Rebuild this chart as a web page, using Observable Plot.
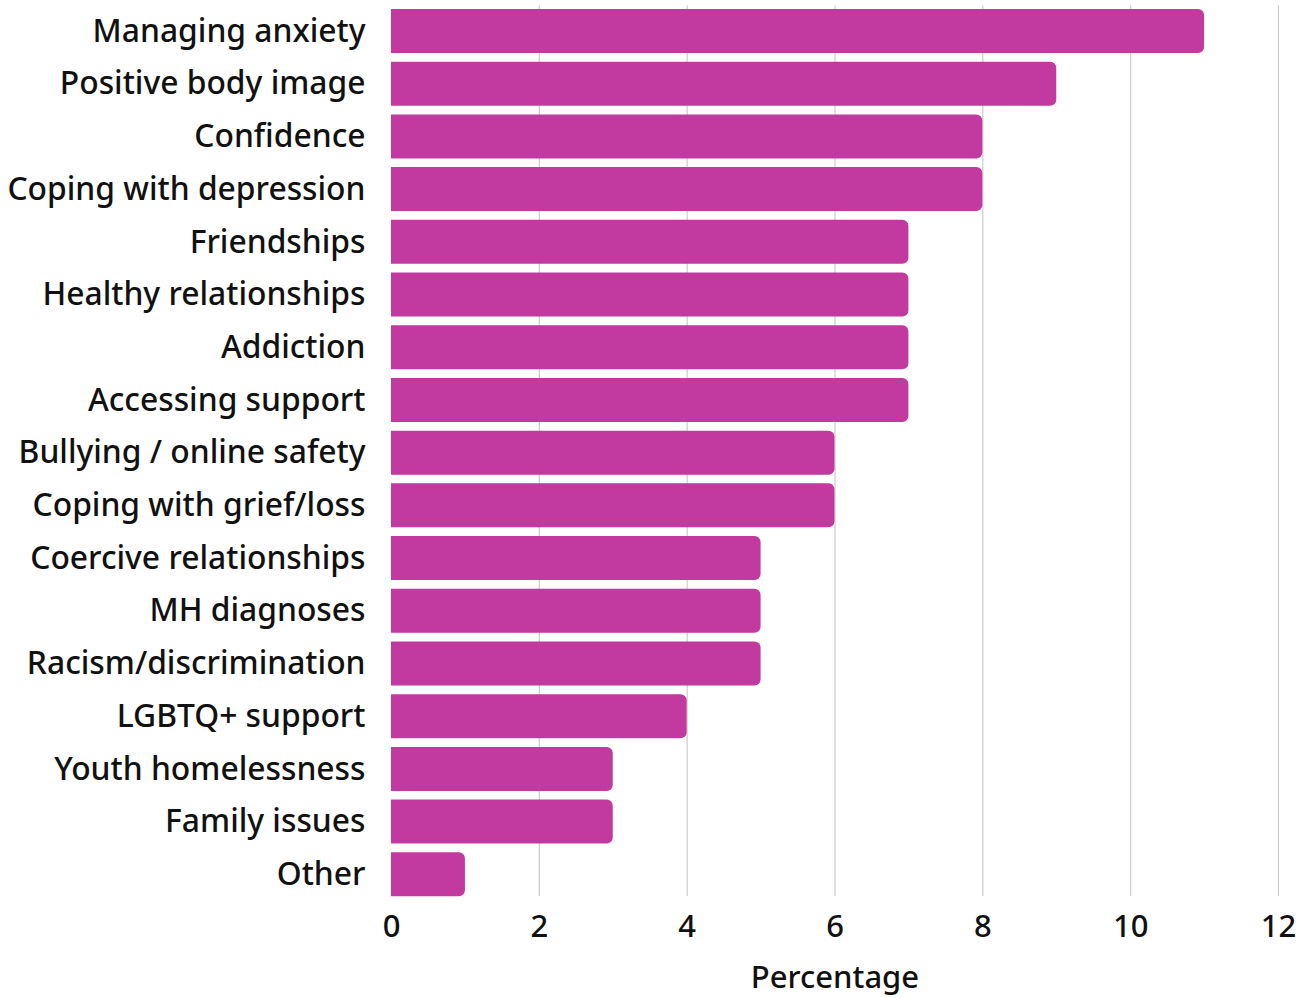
<!DOCTYPE html>
<html>
<head>
<meta charset="utf-8">
<script src="https://cdn.jsdelivr.net/npm/d3@7"></script>
<script src="https://cdn.jsdelivr.net/npm/@observablehq/plot@0.6"></script>
<style>
  html, body { margin: 0; padding: 0; background: #fff; }
  #chart { width: 1305px; height: 998px; }
</style>
</head>
<body>
<div id="chart"></div>
<script>
const categories = [
  "Managing anxiety",
  "Positive body image",
  "Confidence",
  "Coping with depression",
  "Friendships",
  "Healthy relationships",
  "Addiction",
  "Accessing support",
  "Bullying / online safety",
  "Coping with grief/loss",
  "Coercive relationships",
  "MH diagnoses",
  "Racism/discrimination",
  "LGBTQ+ support",
  "Youth homelessness",
  "Family issues",
  "Other"
];
const percentages = [11, 9, 8, 8, 7, 7, 7, 7, 6, 6, 5, 5, 5, 4, 3, 3, 1];
const xTicks = [0, 2, 4, 6, 8, 10, 12];
const gridTicks = [2, 4, 6, 8, 10, 12];

const data = categories.map((c, i) => ({topic: c, pct: percentages[i]}));

const chart = Plot.plot({
  width: 1305,
  height: 998,
  marginLeft: 391,
  marginRight: 27,
  marginTop: 0.3,
  marginBottom: 93,
  style: {fontFamily: "'Noto Sans', sans-serif", fontSize: "31px", fontWeight: 500, color: "#111", background: "#fff"},
  x: {domain: [0, 12]},
  y: {domain: categories, padding: 0.165, round: false},
  marks: [
    Plot.gridX(gridTicks, {stroke: "#cccccc", strokeWidth: 1.2, strokeOpacity: 1, insetTop: 5, insetBottom: 9}),
    Plot.barX(data, {x: "pct", y: "topic", fill: "#c2399f", rx2: 6}),
    Plot.axisX(xTicks, {tickSize: 0, tickPadding: 9, label: "Percentage", labelArrow: "none", labelAnchor: "center", labelOffset: 82, fontSize: 31}),
    Plot.axisY({tickSize: 0, tickPadding: 26, label: null, fontSize: 31.8})
  ]
});
document.getElementById("chart").appendChild(chart);
</script>
</body>
</html>
